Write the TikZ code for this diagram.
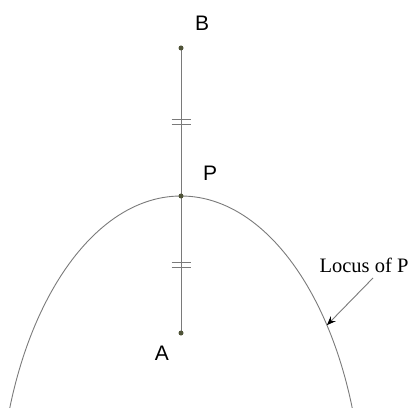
\documentclass[tikz,border=0pt]{standalone}
\usepackage{fontspec}
\setmainfont{Liberation Serif}
\newfontfamily\labelfont{Liberation Sans}
\usetikzlibrary{arrows.meta, positioning, calc}
\definecolor{dotcol}{HTML}{4F5338}
\definecolor{linecol}{HTML}{7A7A7A}

\begin{document}
\begin{tikzpicture}[x=1pt, y=1pt, every node/.style={font=\labelfont\fontsize{21}{24}\selectfont}, dot/.style={circle, fill=dotcol, inner sep=0pt, minimum size=5pt}]
        \useasboundingbox (0,0) rectangle (414,407);
        \begin{scope}
        \clip (0,0) rectangle (414,407);
        \draw [linecol, line width=0.9pt] (181,-110) ellipse [x radius=182, y radius=321];
        \end{scope}
        \coordinate (B) at (181,359);
        \coordinate (P) at (181,211);
        \coordinate (A) at (181,74);
        \draw [linecol, line width=0.9pt] (B) -- (A);
        
        % equal-length marks
        \coordinate (mBP) at ($(B)!0.5!(P)$);
        \coordinate (mPA) at ($(P)!0.5!(A)$);
        \foreach \m in {mBP, mPA} {
            \draw [linecol, line width=0.8pt] ($(\m)+(-9.5,2.5)$) -- ($(\m)+(9.5,2.5)$);
            \draw [linecol, line width=0.8pt] ($(\m)+(-9.5,-2.5)$) -- ($(\m)+(9.5,-2.5)$);
        }
        
        \node (dotB) [dot] at (B) {};
        \node (dotP) [dot] at (P) {};
        \node (dotA) [dot] at (A) {};
        \node (lblB) at (202,384) {B};
        \node (lblP) at (210,234) {P};
        \node (lblA) at (162,53.5) {A};
        
        \node (locus) [font=\rmfamily\fontsize{20.5}{24}\selectfont] at (364,142) {Locus of P};
        \coordinate (tail) at (373,129);
        \coordinate (tip) at ($(181,-110)+(36.7:182 and 321)$);
        \draw [linecol, line width=0.9pt, -{Stealth[length=9pt, width=7pt, inset=3pt, black]}] (tail) -- (tip);
    \end{tikzpicture}
\end{document}
